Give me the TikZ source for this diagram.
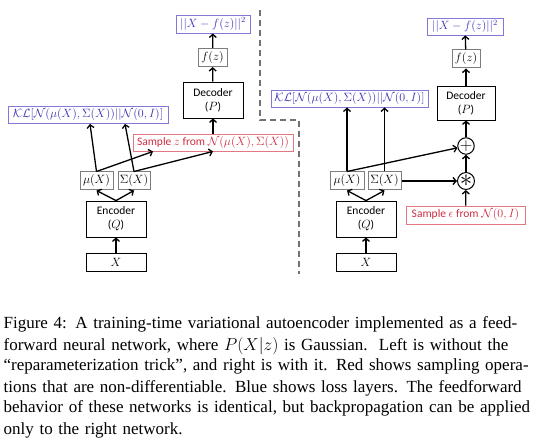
\documentclass[tikz,border=0pt]{standalone}
\usepackage{amsmath}
\usepackage{amsfonts}
\usepackage{fontspec}
\setmainfont{Liberation Serif}
\newfontfamily\lblfont{Carlito}
\usetikzlibrary{arrows.meta, positioning}
\definecolor{lossblue}{RGB}{60,50,180}
\definecolor{lossedge}{RGB}{130,120,215}
\definecolor{sampred}{RGB}{205,45,65}
\definecolor{sampedge}{RGB}{225,120,130}
\definecolor{valedge}{RGB}{125,125,125}
\definecolor{sepgray}{RGB}{115,115,115}
\tikzset{>={Straight Barb[length=3.2pt,width=7pt]}}
\tikzset{
  netbox/.style={draw, line width=.8pt, inner sep=0pt, align=center, font=\lblfont\fontsize{11.5}{14}\selectfont},
  valbox/.style={draw=valedge, line width=1pt, inner sep=0pt, minimum height=18pt, font=\fontsize{11.5}{13}\selectfont},
  lossbox/.style={draw=lossedge, line width=.9pt, inner sep=0pt, minimum height=17pt, text=lossblue, font=\fontsize{11.5}{13}\selectfont},
  sampbox/.style={draw=sampedge, line width=.9pt, inner sep=0pt, minimum height=17pt, text=sampred, font=\lblfont\fontsize{11.5}{13}\selectfont},
  opnode/.style={draw, circle, line width=1pt, inner sep=0pt, minimum size=16pt, font=\fontsize{16}{16}\selectfont}
}
\newcommand{\capline}[1]{\makebox[515pt][s]{#1}}

\begin{document}
\begin{tikzpicture}[x=1pt, y=-1pt, line width=1.3pt]
	\useasboundingbox (0,0) rectangle (535,443);
	% left: without the trick
	\node[netbox, minimum width=60pt, minimum height=18pt] (xL) at (116,262) {$X$};
	\node[netbox, minimum width=60pt, minimum height=36pt] (encL) at (116,219) {Encoder\\($Q$)};
	\node[valbox, minimum width=33pt] (muL) at (96.5,181) {$\mu(X)$};
	\node[valbox, minimum width=32pt] (sigL) at (134,181) {$\Sigma(X)$};
	\node[lossbox, minimum width=160pt] (klL) at (88,115) {$\mathcal{KL}[\mathcal{N}(\mu(X),\Sigma(X))||\mathcal{N}(0,I)]$};
	\node[sampbox, minimum width=160pt] (sampL) at (213,142.5) {Sample $z$ from $\mathcal{N}(\mu(X),\Sigma(X))$};
	\node[netbox, minimum width=60pt, minimum height=36pt] (decL) at (213,100) {Decoder\\($P$)};
	\node[valbox, minimum width=29pt] (fzL) at (212.5,57.5) {$f(z)$};
	\node[lossbox, minimum width=74pt, minimum height=18pt] (lossL) at (213,24) {$||X-f(z)||^2$};
	\draw [->](xL) to (encL);
	\draw [->](encL.north)--(muL.south); \draw [->](encL.north)--(sigL.south);
	\draw [->](muL.north)--([xshift=2pt]klL.south); \draw [->](sigL.north)--([xshift=37pt]klL.south);
	\draw [->](muL.north)--([xshift=-60pt]sampL.south); \draw [->](sigL.north)--(sampL.south);
	\draw [->](sampL) to (decL); \draw [->](decL) to (fzL); \draw [->](fzL) to (lossL);

	\draw [sepgray, line width=1.4pt, dash pattern=on 6pt off 4pt] (260,10)--(260,120)--(299,120)--(299,274);

	% right: with the trick
	\node[netbox, minimum width=60pt, minimum height=18pt] (xR) at (366,262) {$X$};
	\node[netbox, minimum width=60pt, minimum height=36pt] (encR) at (366,219) {Encoder\\($Q$)};
	\node[valbox, minimum width=34pt] (muR) at (347,181) {$\mu(X)$};
	\node[valbox, minimum width=33pt] (sigR) at (384.5,181) {$\Sigma(X)$};
	\node[lossbox, minimum width=157pt] (klR) at (349.5,98.5) {$\mathcal{KL}[\mathcal{N}(\mu(X),\Sigma(X))||\mathcal{N}(0,I)]$};
	\node[opnode, font=\fontsize{24}{24}\selectfont] (starR) at (466,181) {\raisebox{-4.5pt}{$\ast$}};
	\node[opnode] (plusR) at (466,146) {$+$};
	\node[sampbox, minimum width=119pt, minimum height=18pt] (sampR) at (465.5,215) {Sample $\epsilon$ from $\mathcal{N}(0,I)$};
	\node[netbox, minimum width=58pt, minimum height=34pt] (decR) at (466,103) {Decoder\\($P$)};
	\node[valbox, minimum width=28pt] (fzR) at (466,59) {$f(z)$};
	\node[lossbox, minimum width=76pt] (lossR) at (465,26.5) {$||X-f(z)||^2$};
	\draw [->](xR) to (encR);
	\draw [->](encR.north)--(muR.south); \draw [->](encR.north)--(sigR.south);
	\draw [->](muR.north)--(muR.north |- klR.south); \draw [->](sigR.north)--(sigR.north |- klR.south);
	\draw [->](muR.north)--(plusR); \draw [->](sigR.east)--(starR);
	\draw [->](sampR) to (starR); \draw [->](starR) to (plusR); \draw [->](plusR) to (decR);
	\draw [->](decR) to (fzR); \draw [->](fzR) to (lossR);

	\node[anchor=base west, inner sep=0pt, text width=515pt, align=left, font=\fontsize{17}{21}\selectfont] (cap) at (3,329)
	{\capline{Figure 4: A training-time variational autoencoder implemented as a feed-}\\
	\capline{forward neural network, where $P(X|z)$ is Gaussian.\ \ Left is without the}\\
	\capline{``reparameterization trick'', and right is with it. Red shows sampling opera-}\\
	\capline{tions that are non-differentiable. Blue shows loss layers. The feedforward}\\
	\capline{behavior of these networks is identical, but backpropagation can be applied}\\
	only to the right network.};
\end{tikzpicture}
\end{document}
